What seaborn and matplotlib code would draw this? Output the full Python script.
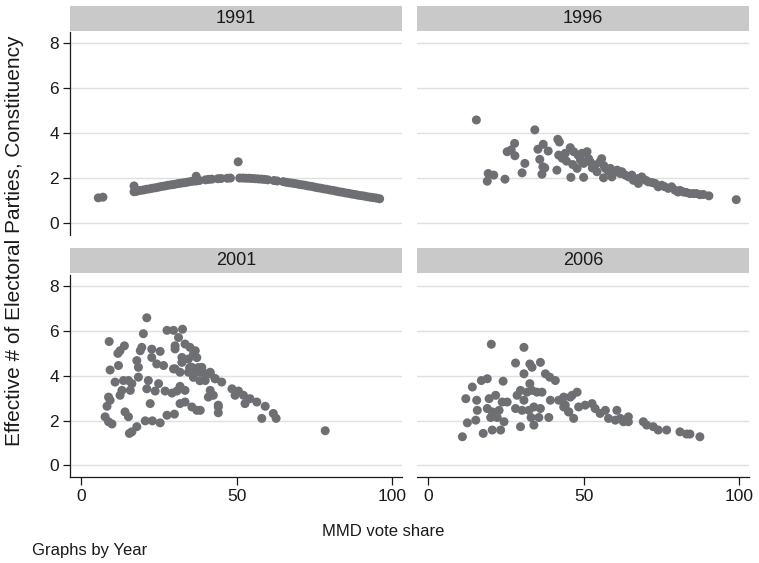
import matplotlib
matplotlib.use("Agg")
import matplotlib.pyplot as plt
import seaborn as sns
import pandas as pd
from matplotlib.patches import Rectangle

years = [1991, 1996, 2001, 2006]

x_1991 = [5.5, 7.0, 17.0, 17.0, 17.5, 18, 19, 20, 21, 22, 23, 24, 25, 26, 27, 28, 29, 30,
          31, 32, 33, 34, 35, 36, 37, 37, 38, 40, 41, 42, 44, 45, 47, 48, 50.5, 51, 52, 53,
          54, 55, 56, 57, 58, 59, 60, 62, 63, 65, 66, 67, 68, 69, 70, 71, 72, 73, 74, 75,
          76, 77, 78, 79, 80, 81, 82, 83, 84, 85, 86, 87, 88, 89, 90, 91, 92, 93, 94, 95, 96]
y_1991 = [1.12, 1.15, 1.65, 1.39, 1.41, 1.42, 1.45, 1.47, 1.50, 1.52, 1.55, 1.57, 1.60, 1.63,
          1.65, 1.68, 1.70, 1.72, 1.75, 1.77, 1.79, 1.81, 1.84, 1.86, 1.87, 2.08, 1.89, 1.92,
          1.94, 1.95, 1.97, 1.98, 1.99, 2.00, 2.72, 2.00, 2.00, 1.99, 1.99, 1.98, 1.97, 1.96,
          1.95, 1.94, 1.92, 1.89, 1.87, 1.84, 1.81, 1.79, 1.77, 1.75, 1.72, 1.70, 1.68, 1.65,
          1.63, 1.60, 1.57, 1.55, 1.52, 1.50, 1.47, 1.45, 1.42, 1.39, 1.37, 1.34, 1.32, 1.29,
          1.27, 1.24, 1.22, 1.20, 1.17, 1.15, 1.13, 1.11, 1.08]

x_1996 = [15.5, 34.3, 27.8, 25.4, 27.9, 26.7, 31.1, 30.2, 19.0, 19.3, 21.1, 24.7, 35.3, 37.0,
          38.6, 35.9, 36.9, 37.5, 36.6, 41.4, 41.7, 42.2, 42.0, 43.1, 44.1, 45.7, 45.9, 46.8,
          48.2, 47.9, 49.5, 51.1, 50.0, 50.0, 52.1, 53.7, 55.3, 54.3, 56.4, 57.0, 58.6, 59.1,
          60.2, 61.8, 63.4, 55.8, 51.6, 62.3, 65.5, 67.6, 68.7, 67.6, 70.8, 73.0, 75.1, 77.2,
          79.4, 82.1, 84.2, 86.3, 88.5, 90.3, 99.1, 66.0, 74.0, 78.3, 80.4, 85.3, 87.4, 44.5,
          46.5, 49.0, 52.8, 56.5, 58.0, 60.8, 64.5, 70.0, 72.0, 76.0, 81.0, 83.0]
y_1996 = [4.58, 4.14, 3.54, 3.17, 2.99, 3.25, 2.65, 2.23, 1.86, 2.20, 2.13, 1.95, 3.28, 3.50,
          3.20, 2.83, 2.50, 2.45, 2.17, 2.35, 3.72, 3.60, 3.02, 2.88, 3.10, 3.35, 2.03, 3.17,
          3.02, 2.43, 3.10, 3.17, 2.65, 2.03, 2.72, 2.58, 2.72, 2.28, 2.01, 2.43, 2.43, 2.05,
          2.28, 2.20, 2.13, 2.86, 2.86, 2.28, 2.13, 1.98, 2.05, 1.76, 1.83, 1.76, 1.68, 1.54,
          1.46, 1.38, 1.31, 1.31, 1.27, 1.21, 1.04, 1.90, 1.61, 1.61, 1.38, 1.31, 1.26, 2.75,
          2.60, 2.80, 2.45, 2.55, 2.30, 2.35, 2.05, 1.90, 1.80, 1.62, 1.45, 1.36]

x_2001 = [21.1, 20.0, 27.6, 29.7, 32.6, 31.3, 9.0, 13.9, 12.5, 11.8, 19.5, 19.0, 22.7, 25.4,
          30.2, 30.2, 33.4, 35.0, 36.7, 17.9, 18.4, 22.7, 24.3, 26.5, 29.7, 32.4, 32.4, 34.5,
          35.6, 9.3, 12.0, 10.9, 13.6, 15.2, 16.3, 13.1, 15.8, 18.4, 21.6, 24.9, 21.1, 23.8,
          27.0, 29.2, 30.8, 31.8, 33.4, 30.2, 31.8, 34.5, 36.7, 38.3, 39.9, 41.5, 43.1, 42.5,
          44.1, 8.8, 9.3, 12.5, 8.3, 22.2, 31.8, 33.4, 35.6, 37.2, 14.1, 15.2, 7.7, 8.8, 9.9,
          20.6, 22.9, 25.4, 27.6, 30.0, 17.9, 16.3, 15.5, 36.1, 37.2, 37.7, 34.9, 36.1, 38.2,
          40.4, 38.8, 41.5, 39.9, 43.1, 45.2, 41.5, 40.9, 44.1, 44.1, 48.5, 50.6, 52.2, 49.5,
          54.3, 52.7, 56.5, 59.2, 58.1, 61.8, 62.7, 78.5, 38.3]
y_2001 = [6.59, 5.88, 6.03, 6.03, 6.08, 5.71, 5.53, 5.34, 5.12, 5.00, 5.27, 5.12, 5.19, 5.09,
          5.34, 5.20, 5.42, 5.27, 5.12, 4.68, 4.38, 4.82, 4.53, 4.46, 4.31, 4.82, 4.60, 4.75,
          4.38, 4.26, 4.46, 3.72, 3.79, 3.79, 3.65, 3.35, 3.35, 3.94, 3.79, 3.65, 3.42, 3.32,
          3.32, 3.23, 3.32, 3.53, 3.35, 4.31, 4.16, 4.16, 4.23, 4.16, 4.09, 4.09, 3.87, 3.13,
          2.69, 3.05, 2.91, 3.13, 2.64, 2.76, 2.76, 2.83, 2.61, 2.46, 2.39, 2.17, 2.17, 1.95,
          1.85, 1.99, 1.99, 1.90, 2.24, 2.29, 1.73, 1.50, 1.43, 4.96, 4.81, 4.37, 4.37, 3.93,
          3.78, 4.07, 4.38, 4.16, 3.79, 3.87, 3.72, 3.35, 3.05, 2.61, 2.35, 3.42, 3.32, 3.13,
          3.13, 2.98, 2.76, 2.83, 2.64, 2.10, 2.32, 2.10, 1.55, 2.46]

x_2006 = [20.3, 30.8, 28.1, 32.7, 33.4, 36.1, 30.8, 37.7, 39.1, 40.9, 17.1, 19.0, 24.1, 14.2,
          32.7, 12.1, 15.6, 15.8, 19.6, 21.7, 23.8, 25.4, 19.0, 20.6, 22.8, 20.1, 22.2, 24.4,
          28.6, 29.7, 31.8, 30.8, 33.4, 35.0, 36.6, 28.1, 30.2, 32.4, 34.0, 36.1, 33.1, 35.6,
          38.8, 29.7, 34.0, 15.3, 12.6, 11.0, 17.7, 20.6, 23.3, 39.3, 42.0, 43.6, 45.7, 45.2,
          47.9, 46.3, 43.6, 44.1, 45.2, 46.8, 48.4, 50.5, 52.7, 53.7, 55.3, 57.0, 58.0, 60.7,
          60.2, 61.8, 62.8, 64.4, 64.4, 69.2, 70.3, 72.4, 74.0, 76.7, 81.0, 83.1, 84.2, 87.4]
y_2006 = [5.41, 5.27, 4.57, 4.53, 4.38, 4.60, 4.09, 4.09, 3.94, 3.79, 3.79, 3.87, 3.76, 3.50,
          3.65, 2.98, 2.91, 2.46, 2.98, 3.13, 2.83, 2.83, 2.54, 2.39, 2.46, 2.14, 2.14, 1.95,
          3.13, 3.35, 3.27, 2.91, 3.35, 3.27, 3.27, 2.54, 2.46, 2.46, 2.61, 2.54, 2.14, 2.14,
          2.14, 1.73, 1.80, 2.02, 1.90, 1.28, 1.43, 1.58, 1.58, 2.91, 2.91, 2.61, 3.05, 2.39,
          3.27, 3.13, 3.05, 2.69, 2.39, 2.10, 2.61, 2.69, 2.76, 2.54, 2.32, 2.46, 2.10, 2.46,
          2.02, 2.10, 1.95, 2.17, 1.95, 1.95, 1.80, 1.73, 1.58, 1.58, 1.50, 1.40, 1.40, 1.28]

xs = {1991: x_1991, 1996: x_1996, 2001: x_2001, 2006: x_2006}
ys = {1991: y_1991, 1996: y_1996, 2001: y_2001, 2006: y_2006}

df = pd.concat([pd.DataFrame({"Year": yr, "share": xs[yr], "enp": ys[yr]}) for yr in years],
               ignore_index=True)

sns.set_theme(style="white")
plt.rcParams['font.family'] = ['Liberation Sans', 'DejaVu Sans']

g = sns.FacetGrid(df, col="Year", col_wrap=2, col_order=years, sharex=True, sharey=True,
                  despine=False, height=2.5, aspect=1.3)
g.map_dataframe(sns.scatterplot, x="share", y="enp", color="#6e6f73", s=42,
                linewidth=0, edgecolor="none")

fig = g.figure
fig.set_size_inches(7.59, 5.63)
fig.set_dpi(100)

W, H = 759.0, 563.0
pos = {
    1991: (70, 31.7, 402, 235.0),
    1996: (417, 31.7, 749, 235.0),
    2001: (70, 275.0, 402, 477.3),
    2006: (417, 275.0, 749, 477.3),
}
strip_h = {1991: (6, 30.7), 1996: (6, 30.7), 2001: (248.3, 273.3), 2006: (248.3, 273.3)}

for yr in years:
    ax = g.axes_dict[yr]
    l, t, r, b = pos[yr]
    ax.set_position([l / W, 1 - b / H, (r - l) / W, (b - t) / H])
    ax.set_xlim(-3.6, 103.2)
    ax.set_ylim(-0.53, 8.5)
    ax.set_title("")
    ax.set_xlabel("")
    ax.set_ylabel("")
    ax.set_facecolor("white")
    ax.set_xticks([0, 50, 100])
    ax.set_yticks([0, 2, 4, 6, 8])
    ax.yaxis.grid(True, color="#e0e0e0", linewidth=1.0)
    ax.xaxis.grid(False)
    ax.set_axisbelow(True)
    is_left = yr in (1991, 2001)
    is_bottom = yr in (2001, 2006)
    for s in ax.spines.values():
        s.set_visible(False)
    ax.spines["left"].set_visible(is_left)
    ax.spines["bottom"].set_visible(is_bottom)
    for sp in ("left", "bottom"):
        ax.spines[sp].set_color("#1a1a1a")
        ax.spines[sp].set_linewidth(0.9)
    ax.tick_params(axis="y", left=is_left, labelleft=is_left, length=5, width=0.9,
                   color="#1a1a1a", pad=3, labelsize=12.5, labelcolor="#1a1a1a")
    ax.tick_params(axis="x", bottom=is_bottom, labelbottom=is_bottom, length=5.5, width=0.9,
                   color="#1a1a1a", pad=3, labelsize=12.5, labelcolor="#1a1a1a")
    st, sb = strip_h[yr]
    y0 = (b - sb) / (b - t)
    y1 = (b - st) / (b - t)
    ax.add_patch(Rectangle((0, y0), 1, y1 - y0, transform=ax.transAxes, facecolor="#c9c9c9",
                           edgecolor="none", clip_on=False, zorder=3))
    ax.text(0.5, (y0 + y1) / 2, str(yr), transform=ax.transAxes, ha="center", va="center",
            fontsize=13, color="#1a1a1a", zorder=4)

fig.text(383 / W, 1 - 532 / H, "MMD vote share", ha="center", va="center", fontsize=12,
         color="#1a1a1a")
fig.text(32 / W, 1 - 551 / H, "Graphs by Year", ha="left", va="center", fontsize=12,
         color="#1a1a1a")
fig.text(15 / W, 1 - 241 / H, "Effective # of Electoral Parties, Constituency", ha="center",
         va="center", rotation=90, fontsize=15, color="#1a1a1a")

fig.savefig("out.png", dpi=100, facecolor="white")
